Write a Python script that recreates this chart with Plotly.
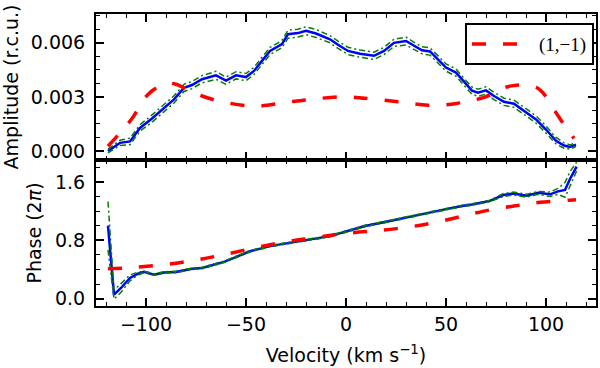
import plotly.graph_objects as go
from plotly.subplots import make_subplots

# Observed amplitude profile (blue) with its uncertainty (green dash-dot bounds)
vel_amp = [-119, -113, -108, -103, -97, -92, -86, -81, -77, -72, -65, -60, -55, -50,
           -46, -42, -38, -32, -29, -24, -20, -15, -8, -4, 1, 7, 14, 19, 24, 30, 34,
           38, 42, 50, 55, 60, 63, 66, 70, 74, 79, 84, 90, 95, 100, 105, 109, 112, 115]
amp_obs = [0.00000, 0.00045, 0.00053, 0.00128, 0.00180, 0.00230, 0.00286, 0.00350,
           0.00366, 0.00398, 0.00420, 0.00390, 0.00420, 0.00410, 0.00444, 0.00500,
           0.00555, 0.00593, 0.00648, 0.00654, 0.00667, 0.00652, 0.00620, 0.00589,
           0.00555, 0.00540, 0.00528, 0.00555, 0.00600, 0.00610, 0.00583, 0.00559,
           0.00552, 0.00463, 0.00435, 0.00370, 0.00335, 0.00323, 0.00336, 0.00305,
           0.00273, 0.00262, 0.00217, 0.00175, 0.00119, 0.00057, 0.00030, 0.00022,
           0.00035]
amp_err = [0.00010, 0.00015, 0.00018, 0.00018, 0.00020, 0.00020, 0.00020, 0.00020,
           0.00020, 0.00020, 0.00022, 0.00020, 0.00020, 0.00020, 0.00020, 0.00020,
           0.00020, 0.00020, 0.00022, 0.00022, 0.00022, 0.00022, 0.00020, 0.00020,
           0.00020, 0.00020, 0.00020, 0.00020, 0.00020, 0.00022, 0.00020, 0.00020,
           0.00020, 0.00020, 0.00020, 0.00020, 0.00020, 0.00020, 0.00020, 0.00020,
           0.00020, 0.00020, 0.00020, 0.00020, 0.00020, 0.00018, 0.00015, 0.00012,
           0.00010]

# Observed phase profile
vel_phase = [-119, -116, -112.5, -108, -104, -101, -96, -91, -85, -77, -72, -66, -61,
             -56, -48, -38, -28, -18, -8, 0, 9.5, 19.5, 29.5, 39.5, 49.5, 58, 63, 72,
             78.7, 83.7, 90.3, 96, 102, 106, 109.5, 112, 115.3]
phase_obs = [1.00, 0.055, 0.147, 0.285, 0.344, 0.367, 0.330, 0.360, 0.367, 0.410,
             0.420, 0.470, 0.505, 0.560, 0.650, 0.720, 0.766, 0.810, 0.857, 0.920,
             0.995, 1.050, 1.110, 1.170, 1.224, 1.270, 1.290, 1.340, 1.420, 1.440,
             1.410, 1.450, 1.430, 1.470, 1.490, 1.640, 1.810]
phase_err = [0.33, 0.06, 0.06, 0.04, 0.02, 0.01, 0.01, 0.01, 0.01, 0.01, 0.01, 0.01,
             0.01, 0.01, 0.01, 0.01, 0.01, 0.01, 0.01, 0.01, 0.01, 0.01, 0.01, 0.01,
             0.01, 0.01, 0.01, 0.01, 0.02, 0.02, 0.02, 0.02, 0.03, 0.04, 0.10, 0.10,
             0.06]

# (1,-1) mode model
vel_model_amp = [-119, -113, -107, -99, -90, -85, -78, -72, -62, -45, -31, -18, -1,
                 9.5, 26, 41, 54.5, 58.7, 68.7, 82, 93.7, 98, 104.5, 110, 114]
amp_model = [0.00026, 0.00100, 0.00180, 0.00314, 0.00374, 0.00370, 0.00332, 0.00305,
             0.00273, 0.00249, 0.00268, 0.00286, 0.00301, 0.00292, 0.00273, 0.00254,
             0.00262, 0.00273, 0.00296, 0.00360, 0.00360, 0.00329, 0.00221, 0.00130,
             0.00070]
vel_model_phase = [-119, -105, -87, -72, -60, -45, -30, -16, -2, 10, 25, 40, 55, 69,
                   84, 97, 112, 115]
phase_model = [0.410, 0.430, 0.480, 0.545, 0.610, 0.700, 0.780, 0.835, 0.890, 0.920,
               0.960, 1.020, 1.110, 1.200, 1.270, 1.320, 1.350, 1.355]

FONT = "DejaVu Sans"
FS = 19
RED_DASH = "14px,17px"

fig = make_subplots(rows=2, cols=1, shared_xaxes=True, vertical_spacing=0)

obs_sets = [
    (1, vel_amp, amp_obs, amp_err),
    (2, vel_phase, phase_obs, phase_err),
]
for row, vx, vy, ve in obs_sets:
    upper = [v + e for v, e in zip(vy, ve)]
    lower = [v - e for v, e in zip(vy, ve)]
    fig.add_trace(go.Scatter(x=vx, y=vy, mode="lines", showlegend=False,
                             line=dict(color="#0000ff", width=2.5)), row=row, col=1)
    for bound in (upper, lower):
        fig.add_trace(go.Scatter(x=vx, y=bound, mode="lines", showlegend=False,
                                 line=dict(color="#008000", width=1.5,
                                           dash="6px,3px,2px,3px")), row=row, col=1)

fig.add_trace(go.Scatter(x=vel_model_amp, y=amp_model, mode="lines", name="(1,\u22121)",
                         line=dict(color="#ff0000", width=3.5, dash=RED_DASH,
                                   shape="spline")), row=1, col=1)
fig.add_trace(go.Scatter(x=vel_model_phase, y=phase_model, mode="lines", showlegend=False,
                         line=dict(color="#ff0000", width=3.5, dash=RED_DASH,
                                   shape="spline")), row=2, col=1)

axis_common = dict(
    showline=True, linecolor="black", linewidth=2, mirror="allticks",
    ticks="inside", ticklen=8, tickwidth=1.5, tickcolor="black",
    showgrid=False, zeroline=False, automargin=False,
    tickfont=dict(family=FONT, size=FS, color="black"),
)

fig.update_xaxes(**axis_common, range=[-125, 125], dtick=50, tick0=0,
                 minor=dict(dtick=10, ticks="inside", ticklen=4, tickcolor="black",
                            tickwidth=1.2, showgrid=False))
fig.update_xaxes(showticklabels=False, row=1, col=1)
fig.update_xaxes(ticklabelstandoff=0,
                 title=dict(text="Velocity (km s<sup>\u22121</sup>)",
                            font=dict(family=FONT, size=FS, color="black"), standoff=15),
                 row=2, col=1)

fig.update_yaxes(**axis_common, ticklabelstandoff=5)
fig.update_yaxes(range=[-0.0005, 0.0076], dtick=0.003, tick0=0, tickformat=".3f",
                 minor=dict(dtick=0.00075, ticks="inside", ticklen=4, tickcolor="black",
                            tickwidth=1.2, showgrid=False),
                 title=dict(text="Amplitude (r.c.u.)",
                            font=dict(family=FONT, size=FS, color="black"), standoff=8),
                 row=1, col=1)
fig.update_yaxes(range=[-0.1, 1.9], dtick=0.8, tick0=0, tickformat=".1f",
                 minor=dict(dtick=0.2, ticks="inside", ticklen=4, tickcolor="black",
                            tickwidth=1.2, showgrid=False),
                 title=dict(text="Phase (2<i>\u03c0</i>)",
                            font=dict(family=FONT, size=FS, color="black"), standoff=8),
                 row=2, col=1)

fig.update_layout(
    width=600, height=368,
    margin=dict(l=96, r=4, t=14, b=62, autoexpand=False),
    plot_bgcolor="white", paper_bgcolor="white",
    legend=dict(x=0.996, y=0.969, xanchor="right", yanchor="top",
                bordercolor="black", borderwidth=2, bgcolor="white",
                itemwidth=62,
                font=dict(family="Liberation Serif", size=19, color="black")),
)

# drop the browser's default 8px body margin so the figure sits at the page origin
fig.write_html("out.html", config={"displayModeBar": False},
               post_script="document.body.style.margin='0';")
